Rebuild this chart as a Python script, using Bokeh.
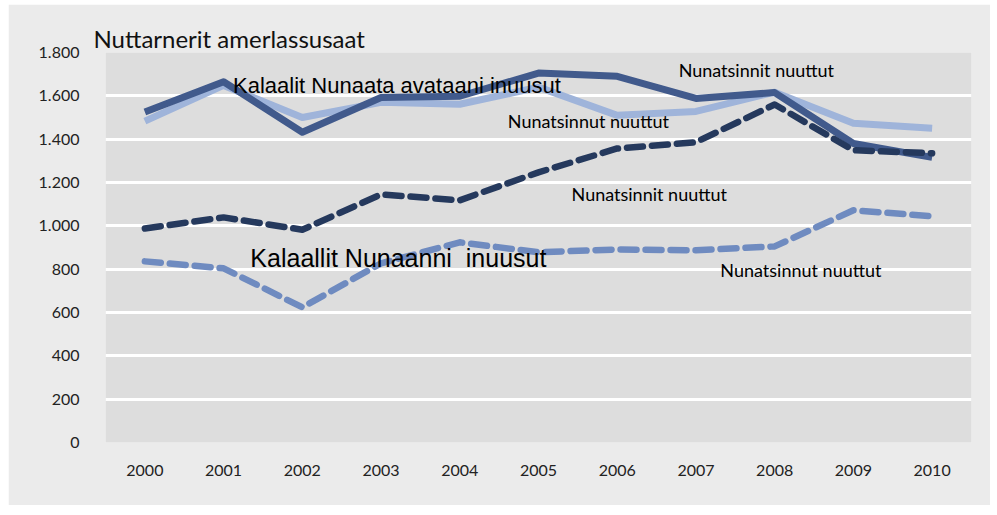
from bokeh.plotting import figure
from bokeh.models import FixedTicker, Label
from bokeh.embed import file_html
from bokeh.resources import INLINE

years = ["2000", "2001", "2002", "2003", "2004", "2005", "2006", "2007", "2008", "2009", "2010"]
avataani_inuusut = [1525, 1665, 1432, 1592, 1598, 1705, 1690, 1588, 1615, 1380, 1316]
nunatsinnut_1 = [1483, 1648, 1500, 1570, 1561, 1640, 1510, 1528, 1617, 1473, 1450]
nunatsinnit_2 = [988, 1039, 982, 1145, 1118, 1247, 1357, 1386, 1560, 1349, 1335]
nunaanni_inuusut = [836, 804, 624, 827, 924, 878, 891, 887, 905, 1072, 1044]
y_ticks = [0, 200, 400, 600, 800, 1000, 1200, 1400, 1600, 1800]
y_tick_labels = ["0", "200", "400", "600", "800", "1.000", "1.200", "1.400", "1.600", "1.800"]
title_text = "Nuttarnerit amerlassusaat"

small_font = "Lato"
big_font = "Liberation Sans"

p = figure(x_range=years, y_range=(0, 1800), width=982, height=501,
           output_backend="svg", toolbar_location=None,
           min_border_left=97, min_border_right=19, min_border_top=48, min_border_bottom=63)
p.margin = (4, 0, 0, 8)
p.background_fill_color = "#dddddd"
p.border_fill_color = "#ebebeb"
p.outline_line_color = None

p.title.text = title_text
p.title.align = "left"
p.title.offset = -12
p.title.text_font = small_font
p.title.text_font_style = "normal"
p.title.text_font_size = "24px"
p.title.text_color = "#111111"
p.title.standoff = 0

p.xgrid.grid_line_color = None
p.ygrid.grid_line_color = "white"
p.ygrid.grid_line_width = 3
p.yaxis.ticker = FixedTicker(ticks=y_ticks)
p.yaxis.major_label_overrides = {t: l for t, l in zip(y_ticks, y_tick_labels)}

for ax in (p.xaxis, p.yaxis):
    ax.axis_line_color = None
    ax.major_tick_line_color = None
    ax.minor_tick_line_color = None
    ax.major_label_text_font = small_font
    ax.major_label_text_font_size = "16px"
    ax.major_label_text_color = "#222222"
p.yaxis.major_label_standoff = 20
p.xaxis.major_label_standoff = 16

p.line(years, nunatsinnut_1, line_color="#9fb4da", line_width=7, line_join="round")
p.line(years, avataani_inuusut, line_color="#415a8c", line_width=7, line_join="round")
p.line(years, nunatsinnit_2, line_color="#25395d", line_width=6.5, line_dash="16 9",
       line_cap="round", line_join="round")
p.line(years, nunaanni_inuusut, line_color="#6f8bc0", line_width=6.5, line_dash="16 9",
       line_cap="round", line_join="round")

def lab(x, y, text, font, size):
    p.add_layout(Label(x=x, y=y, text=text, text_font=font, text_font_size=size,
                       text_color="black", text_baseline="middle", text_align="left"))

lab(1.62, 1650, "Kalaalit Nunaata avataani inuusut", big_font, "22px")
lab(1.84, 850, "Kalaallit Nunaanni\u00a0 inuusut", big_font, "25px")
lab(7.28, 1720, "Nunatsinnit nuuttut", small_font, "18px")
lab(5.11, 1485, "Nunatsinnut nuuttut", small_font, "18px")
lab(5.92, 1145, "Nunatsinnit nuuttut", small_font, "18px")
lab(7.81, 795, "Nunatsinnut nuuttut", small_font, "18px")

open("out.html", "w").write(file_html(p, INLINE))
